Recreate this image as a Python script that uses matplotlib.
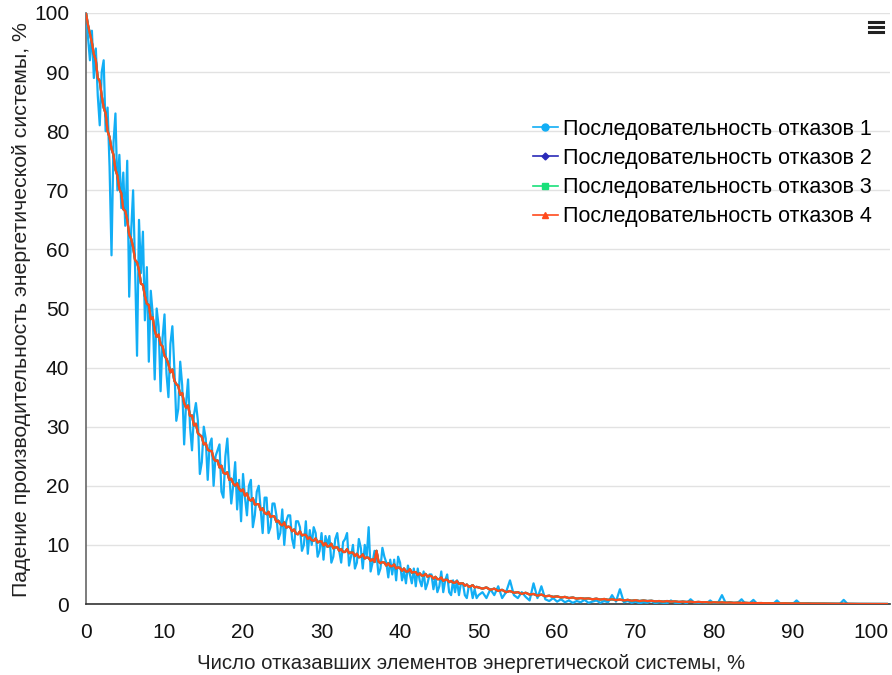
import numpy as np
import matplotlib
matplotlib.use("Agg")
import matplotlib.pyplot as plt
from matplotlib.lines import Line2D

plt.rcParams['font.family'] = ['Liberation Sans', 'DejaVu Sans']

# ---- data ----
series_names = ["Последовательность отказов 1", "Последовательность отказов 2",
                "Последовательность отказов 3", "Последовательность отказов 4"]
x_label = "Число отказавших элементов энергетической системы, %"
y_label = "Падение производительность энергетической системы, %"
x_ticks = [0, 10, 20, 30, 40, 50, 60, 70, 80, 90, 100]
y_ticks = [0, 10, 20, 30, 40, 50, 60, 70, 80, 90, 100]

# part 1: x = 0 .. 50, step 0.25 ; part 2: x = 50.5 .. 102, step 0.5
head_step, tail_start, tail_step = 0.25, 50.5, 0.5

seq1_head = [
    100, 96, 92, 97, 89, 94, 86, 81, 90, 92, 80, 84, 74, 59, 78, 83,
    70, 76, 67, 73, 64, 75, 52, 63, 70, 57, 42, 65, 56, 63, 48, 57,
    41, 53, 49, 38, 50, 47, 36, 45, 49, 39, 35, 44, 47, 40, 31, 33,
    41, 37, 27, 34, 38, 30, 26, 32, 34, 31, 22, 24, 30, 28, 21, 27,
    28, 20, 25, 26, 27, 19, 18, 25, 28, 22, 17, 20, 24, 16, 21, 14,
    22, 18, 15, 20, 21, 13, 15, 19, 20, 16, 12, 18, 18, 12, 13, 17,
    17, 15, 11, 12, 16, 10, 14, 15, 15, 11, 9.5, 14, 14, 13, 9, 10,
    14, 8.5, 12.5, 10, 13, 12, 8, 9, 12, 7.5, 11.5, 10, 11.5, 7, 8, 11,
    12, 9, 7, 10.5, 11, 12, 6.5, 8, 10, 6, 7, 11, 9.5, 6, 10, 8,
    13, 5.5, 7, 9, 8.5, 5, 6, 9.5, 8, 7, 4.5, 7.5, 5, 7.5, 4, 8,
    7, 4, 5.5, 3.5, 6.5, 5, 3.5, 6, 3, 6, 4, 3, 5.5, 2.5, 3.5, 5,
    5, 2.5, 4.5, 2, 3, 5.5, 2, 4, 5, 2, 1.5, 4, 2, 4, 1.5, 3.5,
    3.5, 1.5, 1, 3, 3, 1, 2.5, 1, 1.5,
]
seq1_tail = [
    2, 1, 2.5, 1.5, 3, 1, 2, 4, 1.5, 1, 2, 1.2, 0.6, 3.5, 1, 3,
    0.8, 0.5, 1, 0.4, 0.8, 0.3, 0.6, 0.2, 0.5, 0.3, 0.7, 0.2, 0.4, 0.6, 0.2, 0.5,
    0.3, 1.5, 0.4, 2.5, 0.3, 0.5, 0.2, 0.4, 0.1, 0.3, 0.2, 0.5, 0.1, 0.3, 0.2, 0.1,
    0.6, 0.2, 0.1, 0.4, 0.1, 0.8, 0.2, 0.1, 0.3, 0.1, 0.6, 0.1, 0.2, 1.5, 0.1, 0.3,
    0.1, 0.2, 0.8, 0, 0.1, 0.7, 0, 0.1, 0, 0.1, 0, 0.6, 0, 0.1, 0, 0,
    0.6, 0, 0, 0.1, 0, 0, 0, 0, 0, 0, 0, 0, 0.7, 0, 0, 0,
    0, 0, 0, 0, 0, 0, 0, 0,
]

seq4_head = [
    100, 98, 96.5, 95, 93, 92, 89, 88.5, 86, 84, 83, 80, 79, 77, 76, 73.5,
    72.5, 70.2, 69.5, 66.8, 66.5, 65, 62.5, 61.8, 60.4, 58.2, 57.8, 56.5, 54.2, 54.0, 52.1, 50.8,
    50.6, 48.2, 48.5, 46.3, 45.2, 45.6, 43.9, 43.6, 42.0, 41.5, 40.6, 39.2, 39.7, 37.8, 37.2, 36.9,
    35.4, 35.7, 34.0, 33.2, 33.6, 31.8, 31.9, 30.2, 30.5, 28.9, 28.6, 28.3, 27.0, 27.2, 26.1, 25.9,
    25.9, 24.6, 24.2, 24.3, 23.1, 23.4, 22.2, 22.0, 22.3, 21.0, 21.2, 20.4, 20.0, 20.4, 19.5, 19.1,
    19.4, 18.3, 18.7, 17.7, 17.5, 17.9, 16.8, 16.9, 16.9, 15.9, 16.2, 15.4, 15.2, 15.6, 14.7, 14.9,
    14.8, 13.9, 14.1, 13.5, 13.3, 13.8, 12.9, 13.1, 13.0, 12.3, 12.6, 11.9, 11.8, 12.3, 11.6, 11.7,
    11.7, 11.0, 11.3, 10.8, 10.7, 11.1, 10.4, 10.6, 10.6, 9.9, 10.3, 9.7, 9.8, 10.2, 9.4, 9.6,
    9.6, 9.0, 9.3, 8.8, 8.8, 9.3, 8.6, 8.7, 8.7, 8.1, 8.5, 7.9, 8.0, 8.4, 7.7, 7.9,
    7.8, 7.3, 7.6, 7.1, 9.0, 7.2, 6.9, 7.1, 7.0, 6.5, 6.9, 6.4, 6.4, 6.7, 6.0, 6.2,
    6.1, 5.6, 6.0, 5.5, 5.5, 5.9, 5.3, 5.4, 5.4, 4.9, 5.2, 4.8, 4.8, 5.1, 4.6, 4.8,
    4.7, 4.3, 4.6, 4.2, 4.2, 4.5, 3.9, 4.1, 4.1, 3.7, 3.9, 3.6, 3.6, 3.9, 3.4, 3.5,
    3.5, 3.1, 3.3, 2.9, 3.0, 3.2, 2.8, 2.9, 2.8,
]
seq4_tail = [
    2.6, 2.8, 2.4, 2.6, 2.2, 2.4, 2.0, 2.2, 1.9, 2.0, 1.7, 1.9, 1.6, 1.7, 1.4, 1.6,
    1.3, 1.4, 1.2, 1.3, 1.1, 1.2, 1.0, 1.1, 0.9, 1.0, 0.9, 0.95, 0.8, 0.9, 0.75, 0.85,
    0.7, 0.8, 0.65, 0.75, 0.6, 0.7, 0.55, 0.65, 0.5, 0.6, 0.5, 0.55, 0.45, 0.5, 0.4, 0.5,
    0.4, 0.45, 0.35, 0.4, 0.35, 0.4, 0.3, 0.35, 0.3, 0.32, 0.25, 0.3, 0.25, 0.28, 0.22, 0.25,
    0.2, 0.22, 0.18, 0.2, 0.16, 0.18, 0.15, 0.16, 0.13, 0.14, 0.12, 0.13, 0.11, 0.12, 0.1, 0.1,
    0.09, 0.09, 0.08, 0.08, 0.07, 0.07, 0.06, 0.06, 0.05, 0.05, 0.04, 0.04, 0.03, 0.03, 0.02, 0.02,
    0.01, 0.01, 0.01, 0, 0, 0, 0, 0,
]
# sequences 2 and 3 coincide with sequence 4 (hidden beneath it in the picture)
seq2_head, seq2_tail = seq4_head, seq4_tail
seq3_head, seq3_tail = seq4_head, seq4_tail

colors = ["#12aef5", "#2a2ab8", "#19e07a", "#ff4a1c"]
markers = ["o", "D", "s", "^"]

def xy(head, tail):
    xh = head_step * np.arange(len(head))
    xt = tail_start + tail_step * np.arange(len(tail))
    return np.concatenate([xh, xt]), np.concatenate([head, tail])

fig = plt.figure(figsize=(8.92, 6.75), dpi=100)
ax = fig.add_axes([86/892, 71/675, (890-86)/892, (604-13)/675])

all_series = [(seq1_head, seq1_tail), (seq2_head, seq2_tail),
              (seq3_head, seq3_tail), (seq4_head, seq4_tail)]
for (h, t), c in zip(all_series, colors):
    x, y = xy(h, t)
    ax.plot(x, y, color=c, lw=1.6, solid_joinstyle='round', zorder=3)

ax.set_xlim(0, 102.4)
ax.set_ylim(0, 100)
ax.set_xticks(x_ticks)
ax.set_yticks(y_ticks)
ax.tick_params(length=0, labelsize=15, colors="#111111")
ax.tick_params(axis="x", pad=14)
ax.tick_params(axis="y", pad=12)
ax.yaxis.grid(True, color="#e2e2e2", lw=1.0)
ax.set_axisbelow(True)
for s in ["top", "right"]:
    ax.spines[s].set_visible(False)
ax.spines["left"].set_color("#666666")
ax.spines["left"].set_linewidth(1.2)
ax.spines["bottom"].set_color("#333333")
ax.spines["bottom"].set_linewidth(1.2)
ax.set_xlabel(x_label, fontsize=14.7, color="#222222", labelpad=8)
ax.xaxis.set_label_coords((471 - 86) / 804, -0.085)
ax.set_ylabel(y_label, fontsize=15.3, color="#222222", labelpad=6)
ax.yaxis.set_label_coords(-0.068, (604 - 310) / 591)

handles = [Line2D([], [], color=c, marker=m, markersize=5 if m != "D" else 3.5, lw=1.2)
           for c, m in zip(colors, markers)]
leg = fig.legend(handles, series_names, loc="upper left",
                 bbox_to_anchor=(522/892, 1 - 108/675), frameon=False,
                 fontsize=15.5, handlelength=1.15, handletextpad=0.25,
                 labelspacing=0.38, borderpad=0)

# menu icon
for yy in (22, 27, 32):
    fig.add_artist(Line2D([869/892, 883/892], [1 - yy/675, 1 - yy/675],
                          color="#222222", lw=2.2, transform=fig.transFigure))

fig.savefig("out.png", dpi=100)
